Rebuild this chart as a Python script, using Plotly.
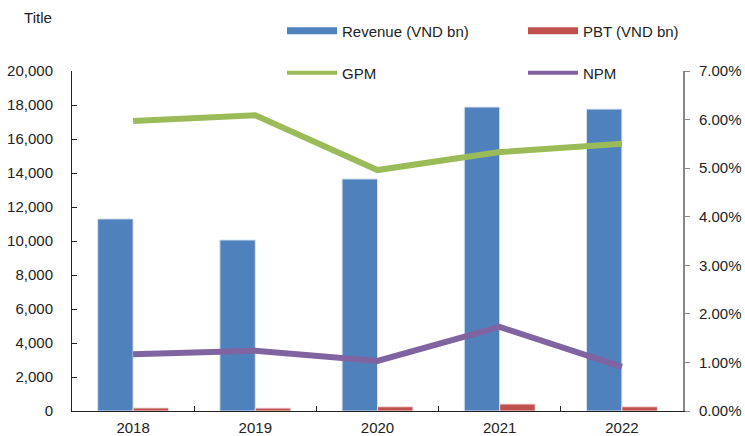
import plotly.graph_objects as go

years = ["2018", "2019", "2020", "2021", "2022"]
revenue = [11300, 10060, 13650, 17880, 17760]   # VND bn
pbt = [180, 170, 250, 410, 250]                  # VND bn
gpm = [0.0597, 0.0609, 0.0496, 0.0533, 0.0550]
npm = [0.0117, 0.0124, 0.0103, 0.0173, 0.0091]

BLUE = "#4F81BD"
RED = "#C0504D"
GREEN = "#9BBB59"
PURPLE = "#8064A2"
FONT = "Liberation Sans, Arial, sans-serif"
FS = 15

# plot area in pixels
L, R, T, B = 72, 683, 71, 411
W, H = 745, 436


def px_x(x):
    return (x - L) / (R - L)


def px_y(y):
    return (B - y) / (B - T)


fig = go.Figure()

fig.add_trace(go.Bar(
    x=years, y=revenue, name="Revenue (VND bn)", marker_color=BLUE,
    marker_line=dict(color="#D9E4F2", width=1), showlegend=False,
))
fig.add_trace(go.Bar(
    x=years, y=pbt, name="PBT (VND bn)", marker_color=RED,
    marker_line=dict(color="#F2DCDB", width=1), showlegend=False,
))
fig.add_trace(go.Scatter(
    x=years, y=gpm, name="GPM", mode="lines", yaxis="y2",
    line=dict(color=GREEN, width=6), showlegend=False,
))
fig.add_trace(go.Scatter(
    x=years, y=npm, name="NPM", mode="lines", yaxis="y2",
    line=dict(color=PURPLE, width=6), showlegend=False,
))

# one legend box per series, laid out as a 2 x 2 grid above the plot
legend_items = [
    ("Revenue (VND bn)", BLUE, 7, "legend", 302, 31),
    ("PBT (VND bn)", RED, 7, "legend2", 543, 31),
    ("GPM", GREEN, 4, "legend3", 302, 73),
    ("NPM", PURPLE, 4, "legend4", 543, 73),
]
legend_layout = {}
for name, color, lw, leg, lx, ly in legend_items:
    fig.add_trace(go.Scatter(
        x=[None], y=[None], mode="lines", name=name,
        line=dict(color=color, width=lw), legend=leg, yaxis="y2",
    ))
    legend_layout[leg] = dict(
        x=px_x(lx - 20), y=px_y(ly), xanchor="left", yanchor="middle",
        itemwidth=50,
        font=dict(family=FONT, size=FS, color="#222"),
        bgcolor="rgba(0,0,0,0)", itemclick=False, itemdoubleclick=False,
    )

fig.update_layout(
    width=W, height=H,
    margin=dict(l=L, r=W - R, t=T, b=H - B),
    paper_bgcolor="white", plot_bgcolor="white",
    font=dict(family=FONT, size=FS, color="#222"),
    barmode="group", bargap=0.42, bargroupgap=0,
    title=dict(text="Title", x=38 / W, xanchor="center",
               y=1 - 18 / H, yanchor="middle",
               font=dict(family=FONT, size=FS, color="#222")),
    xaxis=dict(
        type="category", showgrid=False, showline=True, linecolor="#222",
        linewidth=1, ticks="inside", tickson="boundaries", ticklen=5,
        tickcolor="#222", ticklabelstandoff=3, automargin=False,
    ),
    yaxis=dict(
        range=[0, 20000], dtick=2000, tickformat=",", showgrid=False,
        showline=True, linecolor="#222", linewidth=1, ticks="inside",
        ticklen=5, tickcolor="#222", zeroline=False, ticklabelstandoff=15,
        automargin=False,
    ),
    yaxis2=dict(
        range=[0, 0.07], dtick=0.01, tickformat=".2%", overlaying="y",
        side="right", showgrid=False, showline=True, linecolor="#888",
        linewidth=2, ticks="outside", ticklen=5, tickcolor="#888",
        zeroline=False, ticklabelstandoff=6, automargin=False,
    ),
    **legend_layout,
)

fig.write_html("out.html")
